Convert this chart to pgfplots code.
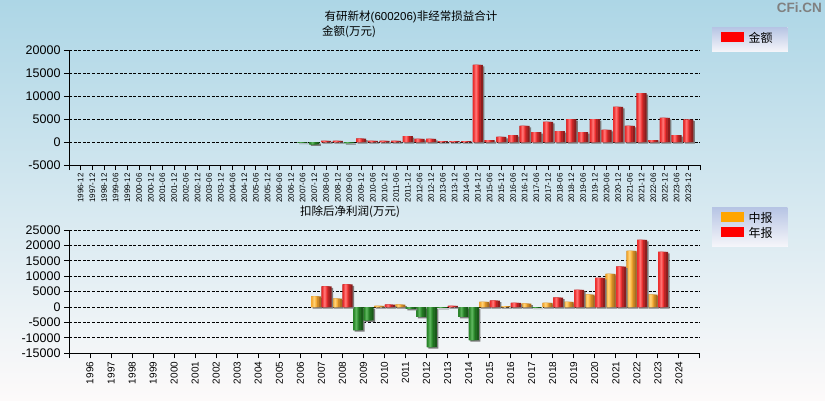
\documentclass[border=0pt]{standalone}
\usepackage{pgfplots}
\usepackage{pgfplotstable}
\pgfplotsset{compat=1.18}
\usepackage{fontspec}
\setmainfont{Liberation Sans}
\newfontfamily\cjk{Noto Sans CJK SC}

\definecolor{bgtop}{RGB}{173,214,230}
\definecolor{bgbot}{RGB}{253,250,250}
\definecolor{legtop}{RGB}{182,196,228}
\definecolor{legbot}{RGB}{246,246,250}
\definecolor{legorange}{RGB}{255,165,0}
% red bar tones
\definecolor{rA}{RGB}{236,46,46}
\definecolor{rB}{RGB}{255,112,112}
\definecolor{rC}{RGB}{140,30,30}
\colorlet{rAB}{rA!50!rB}
\colorlet{rAC}{rA!45!rC}
% orange bar tones
\definecolor{oA}{RGB}{245,170,50}
\definecolor{oB}{RGB}{255,208,115}
\definecolor{oC}{RGB}{170,110,30}
\colorlet{oAB}{oA!50!oB}
\colorlet{oAC}{oA!45!oC}
% green bar tones
\definecolor{gA}{RGB}{42,135,42}
\definecolor{gB}{RGB}{90,178,90}
\definecolor{gC}{RGB}{25,90,25}
\colorlet{gAB}{gA!50!gB}
\colorlet{gAC}{gA!45!gC}
\definecolor{shadowc}{RGB}{125,125,125}

% ---- data ----
\pgfplotstableread{
x y
21 250
22 250
24 720
25 250
26 250
27 250
28 1300
29 700
30 680
31 200
32 200
33 200
34 16750
35 430
36 1090
37 1520
38 3480
39 2170
40 4350
41 2390
42 5000
43 2170
44 5000
45 2610
46 7610
47 3480
48 10650
49 430
50 5220
51 1520
52 4850
}\topred
\pgfplotstableread{
x y
19 -150
20 -500
23 -250
}\topgreen
% 中报 positive / negative
\pgfplotstableread{
x y
2007 3440
2008 2750
2010 400
2011 780
2015 1700
2016 320
2017 1100
2018 1400
2019 1700
2020 4000
2021 10800
2022 18200
2023 4000
}\halfpos
\pgfplotstableread{
x y
2009 -7500
2012 -3200
2013 -300
2014 -3200
}\halfneg
% 年报 positive / negative
\pgfplotstableread{
x y
2007 6700
2008 7350
2010 780
2013 400
2015 2050
2016 1400
2018 3050
2019 5600
2020 9500
2021 13100
2022 21800
2023 17900
}\annpos
\pgfplotstableread{
x y
2009 -4300
2011 -550
2012 -13000
2014 -10700
2017 -200
}\annneg

% #1 table, #2 colour prefix, #3 shadow shift, #4..#8 layer shifts (C, AC, A, AB, B)
\newcommand\layeredbars[8]{%
  \addplot[ybar, draw=none, forget plot, bar width=10pt, bar shift=#3pt, yshift=-1.5pt, fill=shadowc] table {#1};
  \addplot[ybar, draw=none, forget plot, bar width=10pt, bar shift=#4pt, fill=#2C] table {#1};
  \addplot[ybar, draw=none, forget plot, bar width=8pt, bar shift=#5pt, fill=#2AC] table {#1};
  \addplot[ybar, draw=none, forget plot, bar width=6pt, bar shift=#6pt, fill=#2A] table {#1};
  \addplot[ybar, draw=none, forget plot, bar width=3.5pt, bar shift=#7pt, fill=#2AB] table {#1};
  \addplot[ybar, draw=none, forget plot, bar width=1.5pt, bar shift=#8pt, fill=#2B] table {#1};
}

\pgfplotsset{
  cfi/.style={
    scale only axis, anchor=south west, width=631pt,
    axis x line*=bottom, axis y line*=left,
    axis line style={line width=1pt, black},
    tick align=outside, major tick length=5pt,
    tick style={line width=1pt, black},
    ymajorgrids,
    grid style={black, line width=0.8pt, dash pattern=on 3pt off 1.6pt},
    /pgf/number format/assume math mode=true,
    /pgf/number format/1000 sep={},
    scaled y ticks=false,
    yticklabel style={font=\fontsize{12.5}{13}\selectfont, text=black},
    legend style={draw=none, anchor=north west, top color=legtop, bottom color=legbot,
      inner xsep=9pt, inner ysep=5pt, font=\fontsize{12}{14}\selectfont\cjk,
      row sep=0pt, column sep=0pt,
      nodes={inner sep=0pt, text height=10pt, text depth=4pt}},
    legend cell align=left,
  },
  redswatch/.style={legend image code/.code={\fill[red] (0pt,-1.5pt) rectangle (22pt,7.5pt);}},
  orswatch/.style={legend image code/.code={\fill[legorange] (0pt,-1.5pt) rectangle (22pt,7.5pt);}},
}

\begin{document}
\begin{tikzpicture}[x=1pt,y=1pt]
\shade[top color=bgtop, bottom color=bgbot] (0,0) rectangle (825,400);
\node[anchor=north east, text={rgb,255:red,128;green,128;blue,128}, font=\fontsize{13.5}{14}\selectfont\bfseries, inner sep=0pt] at (822,397) {CFi.CN};
\node[font=\fontsize{11.5}{12}\selectfont, inner sep=0pt] at (411,383) {{\cjk 有研新材}(600206){\cjk 非经常损益合计}};
\node[anchor=west, font=\fontsize{11.5}{12}\selectfont\cjk, inner sep=0pt] at (322,368) {金额(万元)};
\node[font=\fontsize{11.5}{12}\selectfont\cjk, inner sep=0pt] at (350,188) {扣除后净利润(万元)};

% ---------- top chart ----------
\begin{axis}[cfi, at={(69pt,235pt)}, height=115pt,
  xmin=-1, xmax=53, ymin=-5000, ymax=20000,
  ytick={-5000,0,5000,10000,15000,20000},
  xtick={-1,0,...,53},
  xticklabels={{},1996-12,1997-12,1998-12,1999-06,1999-12,2000-06,2000-12,2001-06,2001-12,2002-06,2002-12,2003-06,2003-12,2004-06,2004-12,2005-06,2005-12,2006-06,2006-12,2007-06,2007-12,2008-06,2008-12,2009-06,2009-12,2010-06,2010-12,2011-06,2011-12,2012-06,2012-12,2013-06,2013-12,2014-06,2014-12,2015-06,2015-12,2016-06,2016-12,2017-06,2017-12,2018-06,2018-12,2019-06,2019-12,2020-06,2020-12,2021-06,2021-12,2022-06,2022-12,2023-06,2023-12,{}},
  xticklabel style={rotate=90, anchor=east, font=\fontsize{8}{8}\selectfont, text=black},
  legend style={at={(axis description cs:1.019,1.2)}},
]
\layeredbars{\topred}{r}{1.5}{0}{-1}{-2}{-1.75}{-1.75}
\layeredbars{\topgreen}{g}{1.5}{0}{-1}{-2}{-1.75}{-1.75}
\addlegendimage{redswatch}
\addlegendentry{\kern5pt 金额\kern6pt\relax}
\end{axis}

% ---------- bottom chart ----------
\begin{axis}[cfi, at={(69pt,46.7pt)}, height=123.3pt,
  xmin=1995, xmax=2025, ymin=-15000, ymax=25000,
  ytick={-15000,-10000,-5000,0,5000,10000,15000,20000,25000},
  xtick={1995,...,2025},
  xticklabels={{},1996,1997,1998,1999,2000,2001,2002,2003,2004,2005,2006,2007,2008,2009,2010,2011,2012,2013,2014,2015,2016,2017,2018,2019,2020,2021,2022,2023,2024,{}},
  xticklabel style={rotate=90, anchor=east, font=\fontsize{10}{10}\selectfont, text=black},
  legend style={at={(axis description cs:1.019,1.1865)}},
]
% 中报 (half-year), bars centred at -5.25pt
\layeredbars{\halfpos}{o}{-3.75}{-5.25}{-6.25}{-7.25}{-7}{-7}
\layeredbars{\halfneg}{g}{-3.75}{-5.25}{-6.25}{-7.25}{-7}{-7}
% 年报 (annual), bars centred at +5.25pt
\layeredbars{\annpos}{r}{6.75}{5.25}{4.25}{3.25}{3.5}{3.5}
\layeredbars{\annneg}{g}{6.75}{5.25}{4.25}{3.25}{3.5}{3.5}
\addlegendimage{orswatch}
\addlegendentry{\kern5pt 中报\kern6pt\relax}
\addlegendimage{redswatch}
\addlegendentry{\kern5pt 年报\kern6pt\relax}
\end{axis}
\end{tikzpicture}
\end{document}
